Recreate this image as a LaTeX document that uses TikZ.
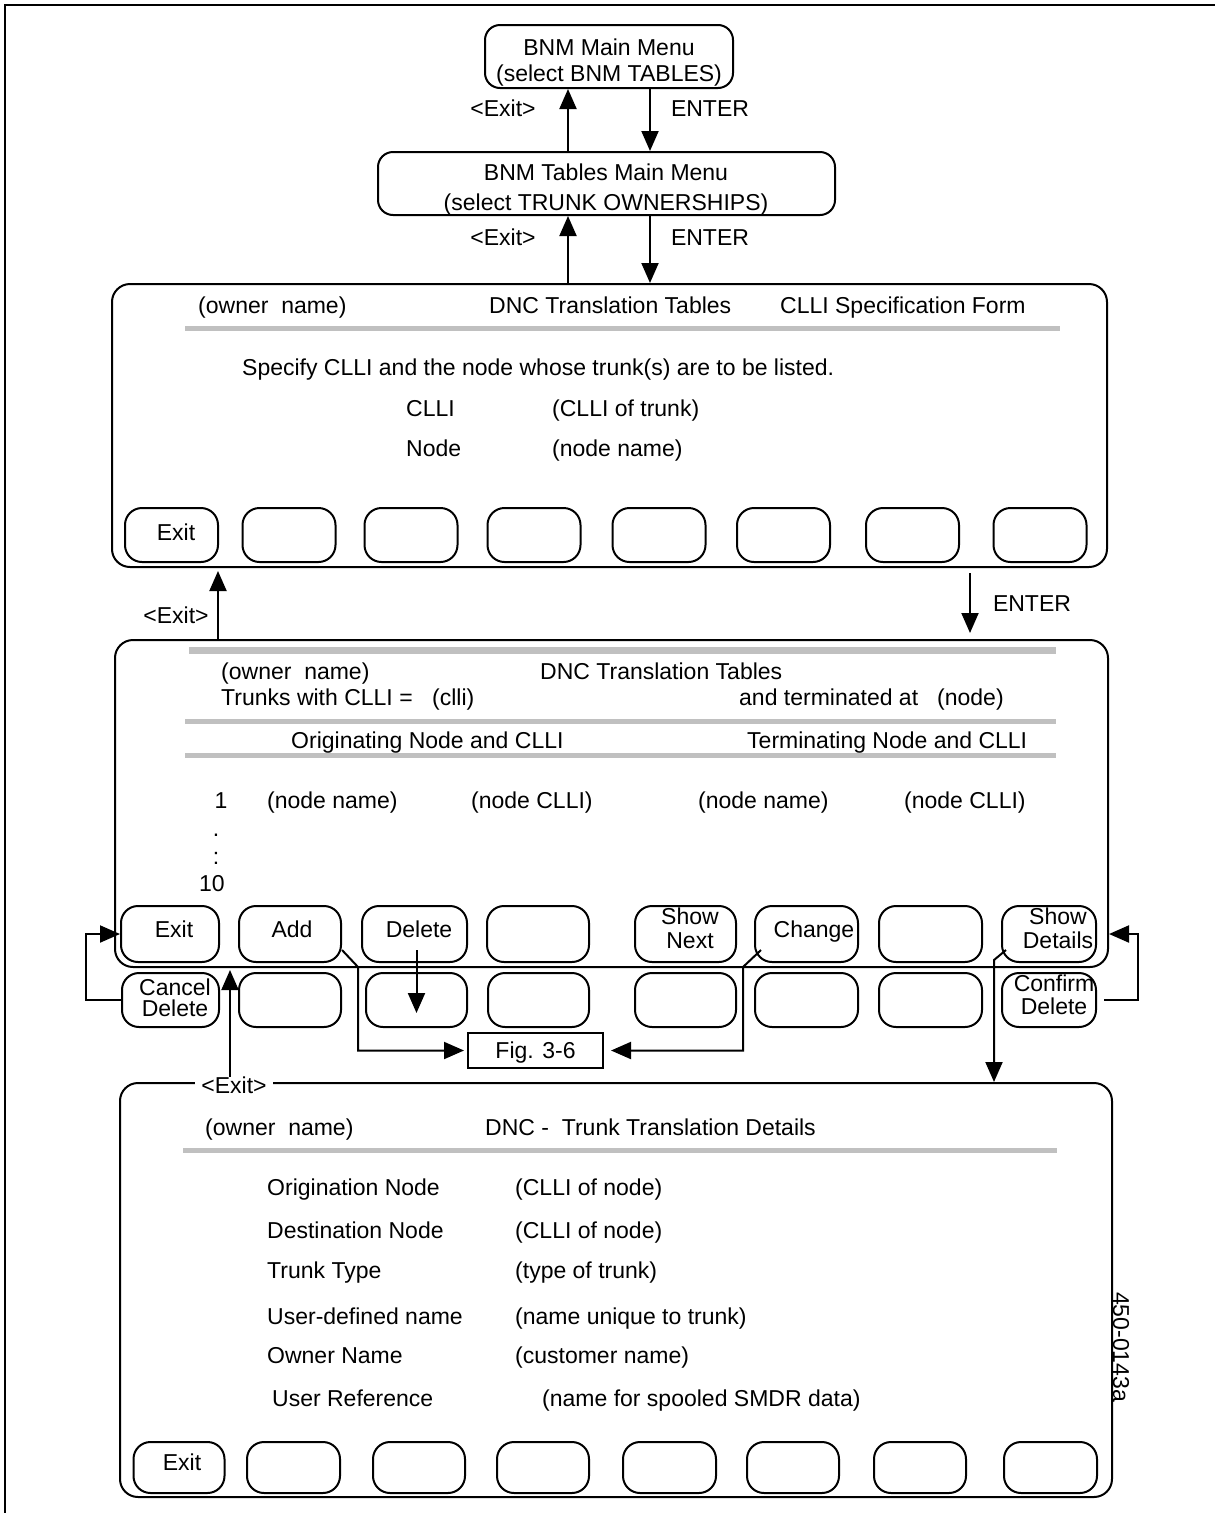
\documentclass[tikz,border=0pt]{standalone}
\usepackage{fontspec}
\setmainfont{Liberation Sans}
\usetikzlibrary{arrows.meta,calc}
\definecolor{barcol}{RGB}{192,192,192}
\begin{document}
\begin{tikzpicture}[x=1pt,y=-1pt,
  font=\fontsize{23}{26}\selectfont,
  menu/.style={draw, line width=2pt, rounded corners=15pt, inner sep=0pt},
  scr/.style={draw, line width=2pt, rounded corners=18pt, inner sep=0pt},
  key/.style={draw, line width=2pt, rounded corners=17pt, inner sep=0pt},
  keyA/.style={key, minimum width=93pt, minimum height=54pt},
  keyB/.style={key, minimum height=56pt},
  keyC/.style={key, minimum height=54pt},
  keyD/.style={key, minimum height=51pt},
  txt/.style={inner sep=0pt, text height=16pt, text depth=0pt},
  txtw/.style={txt, anchor=west},
  two/.style={inner sep=0pt, align=center},
  bar/.style={draw=barcol, line width=5pt},
  arr/.style={line width=2pt, -{Triangle[length=20pt,width=17pt]}},
  ln/.style={line width=2pt},
  frame/.style={line width=2.5pt}]
\useasboundingbox (0,0) rectangle (1215,1513);

% outer frame
\draw[frame] (5,1513) -- (5,5) -- (1215,5);

% x positions of the vertical connectors
\coordinate (xa) at (568,0);
\coordinate (xb) at (650,0);
\coordinate (xe) at (218,0);
\coordinate (xn) at (970,0);
\coordinate (xc) at (230,0);

% ---------- menus ----------
\node[menu, minimum width=248pt, minimum height=63pt] (m1) at (609,56.5) {};
\node[txt] (m1a) at (609,47) {BNM Main Menu};
\node[txt] (m1b) at (609,73) {(select BNM TABLES)};

\node[menu, minimum width=457pt, minimum height=63pt] (m2) at (606.5,183.5) {};
\node[txt] (m2a) at (606,172) {BNM Tables Main Menu};
\node[txt] (m2b) at (606,202) {(select TRUNK OWNERSHIPS)};

\node[txt] (lx1) at (503,108) {<Exit>};
\node[txt] (le1) at (710,108) {ENTER};
\node[txt] (lx2) at (503,237) {<Exit>};
\node[txt] (le2) at (710,237) {ENTER};

% ---------- CLLI specification form ----------
\node[scr, minimum width=995pt, minimum height=283pt] (p1) at (609.5,425.5) {};
\node[txtw] (p1h1) at (198,305) {(owner~~name)};
\node[txtw] (p1h2) at (489,305) {DNC Translation Tables};
\node[txtw] (p1h3) at (780,305) {CLLI Specification Form};
\draw[bar] (185,328) -- (1060,328);
\node[txtw] (p1s) at (242,367) {Specify CLLI and the node whose trunk(s) are to be listed.};
\node[txtw] (p1c) at (406,408) {CLLI};
\node[txtw] (p1cv) at (552,408) {(CLLI of trunk)};
\node[txtw] (p1n) at (406,448) {Node};
\node[txtw] (p1nv) at (552,448) {(node name)};

\node[keyA] (a1) at (171.5,535) {};
\node[keyA] (a2) at (289,535) {};
\node[keyA] (a3) at (411,535) {};
\node[keyA] (a4) at (534,535) {};
\node[keyA] (a5) at (659,535) {};
\node[keyA] (a6) at (783.5,535) {};
\node[keyA] (a7) at (912.5,535) {};
\node[keyA] (a8) at (1040,535) {};
\node[txt] (a1t) at (176,532) {Exit};

\node[txt] (lx3) at (176,615) {<Exit>};
\node[txt] (le3) at (1032,603) {ENTER};

% ---------- trunk list ----------
\node[scr, minimum width=993pt, minimum height=327pt] (p2) at (611.5,803.5) {};
\draw[bar, line width=7pt] (189,650) -- (1056,650);
\node[txtw] (p2h1) at (221,671) {(owner~~name)};
\node[txtw] (p2h2) at (540,671) {DNC Translation Tables};
\node[txtw] (p2t1) at (221,697) {Trunks with CLLI =};
\node[txtw] (p2t2) at (432,697) {(clli)};
\node[txtw] (p2t3) at (739,697) {and terminated at};
\node[txtw] (p2t4) at (937,697) {(node)};
\draw[bar] (185,721) -- (1056,721);
\node[txtw] (p2o) at (291,740) {Originating Node and CLLI};
\node[txtw] (p2d) at (747,740) {Terminating Node and CLLI};
\draw[bar] (185,755) -- (1056,755);
\node[txt] (r1) at (221,800) {1};
\node[txtw] (r1a) at (267,800) {(node name)};
\node[txtw] (r1b) at (471,800) {(node CLLI)};
\node[txtw] (r1c) at (698,800) {(node name)};
\node[txtw] (r1d) at (904,800) {(node CLLI)};
\node[inner sep=0pt, anchor=base] (dot1) at (216,836) {.};
\node[inner sep=0pt, anchor=base] (dot2) at (216,864) {:};
\node[txt] (r10) at (212,883) {10};

% first key row
\node[keyB, minimum width=98pt] (b1) at (170,934) {};
\node[keyB, minimum width=102pt] (b2) at (290,934) {};
\node[keyB, minimum width=105pt] (b3) at (414.5,934) {};
\node[keyB, minimum width=102pt] (b4) at (538,934) {};
\node[keyB, minimum width=101pt] (b5) at (685.5,934) {};
\node[keyB, minimum width=103pt] (b6) at (806.5,934) {};
\node[keyB, minimum width=103pt] (b7) at (930.5,934) {};
\node[keyB, minimum width=94pt] (b8) at (1049,934) {};
\node[txt] (b1t) at (174,929) {Exit};
\node[txt] (b2t) at (292,929) {Add};
\node[txt] (b3t) at (419,929) {Delete};
\node[two, font=\fontsize{23}{24}\selectfont] (b5t) at (690,928) {Show\\Next};
\node[txt] (b6t) at (814,929) {Change};
\node[two, font=\fontsize{23}{24}\selectfont] (b8t) at (1058,928) {Show\\Details};

% second key row
\node[keyC, minimum width=97pt] (c1) at (170.5,1000) {};
\node[keyC, minimum width=102pt] (c2) at (290,1000) {};
\node[keyC, minimum width=101pt] (c3) at (416.5,1000) {};
\node[keyC, minimum width=101pt] (c4) at (538.5,1000) {};
\node[keyC, minimum width=101pt] (c5) at (685.5,1000) {};
\node[keyC, minimum width=103pt] (c6) at (806.5,1000) {};
\node[keyC, minimum width=103pt] (c7) at (930.5,1000) {};
\node[keyC, minimum width=94pt] (c8) at (1049,1000) {};
\node[two, font=\fontsize{23}{21}\selectfont] (c1t) at (175,997.5) {Cancel\\Delete};
\node[two, font=\fontsize{23}{23}\selectfont] (c8t) at (1054,994.5) {Confirm\\Delete};

\node[draw, line width=2pt, minimum width=135pt, minimum height=35pt, inner sep=0pt,
      text height=16pt, text depth=0pt] (fig) at (535.5,1050.5) {Fig. 3-6};

% ---------- trunk details ----------
\node[scr, minimum width=992pt, minimum height=414pt] (p3) at (616,1290) {};
\node[txt, fill=white, inner xsep=6pt] (lx5) at (234,1085) {<Exit>};
\node[txtw] (p3h1) at (205,1127) {(owner~~name)};
\node[txtw] (p3h2) at (485,1127) {DNC -~~Trunk Translation Details};
\draw[bar] (183,1150) -- (1057,1150);
\node[txtw] (f1) at (267,1187) {Origination Node};
\node[txtw] (f1v) at (515,1187) {(CLLI of node)};
\node[txtw] (f2) at (267,1230) {Destination Node};
\node[txtw] (f2v) at (515,1230) {(CLLI of node)};
\node[txtw] (f3) at (267,1270) {Trunk Type};
\node[txtw] (f3v) at (515,1270) {(type of trunk)};
\node[txtw] (f4) at (267,1316) {User-defined name};
\node[txtw] (f4v) at (515,1316) {(name unique to trunk)};
\node[txtw] (f5) at (267,1355) {Owner Name};
\node[txtw] (f5v) at (515,1355) {(customer name)};
\node[txtw] (f6) at (272,1398) {User Reference};
\node[txtw] (f6v) at (542,1398) {(name for spooled SMDR data)};

\node[keyD, minimum width=91pt] (d1) at (179,1467.5) {};
\node[keyD, minimum width=93pt] (d2) at (293.5,1467.5) {};
\node[keyD, minimum width=92pt] (d3) at (419,1467.5) {};
\node[keyD, minimum width=92pt] (d4) at (543,1467.5) {};
\node[keyD, minimum width=93pt] (d5) at (669.5,1467.5) {};
\node[keyD, minimum width=92pt] (d6) at (793,1467.5) {};
\node[keyD, minimum width=92pt] (d7) at (920,1467.5) {};
\node[keyD, minimum width=93pt] (d8) at (1050.5,1467.5) {};
\node[txt] (d1t) at (182,1462) {Exit};

\node[inner sep=0pt, rotate=-90, anchor=base] (code) at (1113,1347) {450-0143a};

% ---------- connectors ----------
\draw[arr] (m2.north -| xa) -- (m1.south -| xa);
\draw[arr] (m1.south -| xb) -- (m2.north -| xb);
\draw[arr] (p1.north -| xa) -- (m2.south -| xa);
\draw[arr] (m2.south -| xb) -- (p1.north -| xb);
\draw[arr, shorten >=3pt] (p2.north -| xe) -- (p1.south -| xe);
\draw[arr, shorten <=5pt, shorten >=6pt] (p1.south -| xn) -- (p2.north -| xn);

\draw[arr] (c1.west) -- ++(-35,0) |- (b1.west);
\draw[arr, shorten <=7pt] (c8.east) -- ++(41,0) |- (p2.east |- b8.east);

\draw[arr, shorten >=3pt] ($(b2.east)+(0,16)$) -- ($(b2.east)+(16,33)$) |- (fig.west);
\draw[arr, shorten >=7pt] ($(b6.west)+(7,16)$) -- ($(b6.west)+(-11,33)$) |- (fig.east);
\draw[arr] ($(b3.center)+(2,16)$) -- ($(c3.center)+(0,13)$);

\coordinate (sdk) at ($(b8.west)+(-7,26)$);
\draw[arr] ($(b8.west)+(5,16)$) -- (sdk) -- (sdk |- p3.north);

\draw[arr, shorten >=2pt] (lx5.north -| xc) -- (p2.south -| xc);
\end{tikzpicture}
\end{document}
